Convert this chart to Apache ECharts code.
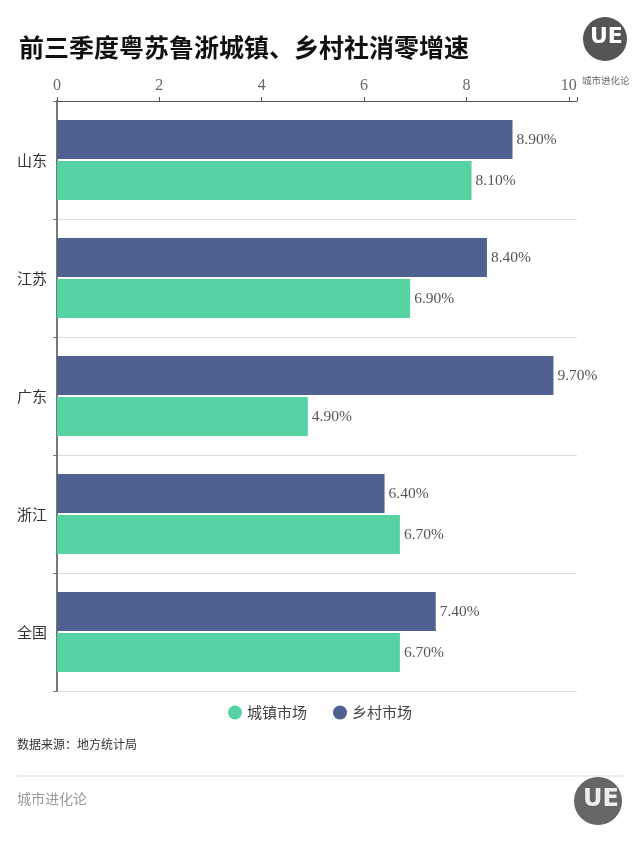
<!DOCTYPE html>
<html><head><meta charset="utf-8">
<script src="https://cdn.jsdelivr.net/npm/echarts@6/dist/echarts.min.js"></script>
<style>html,body{margin:0;padding:0;background:#fff}#c{width:640px;height:853px}</style>
</head><body><div id="c"></div>
<script>
const categories = ['全国', '浙江', '广东', '江苏', '山东'];
const urbanValues = [6.7, 6.7, 4.9, 6.9, 8.1];
const ruralValues = [7.4, 6.4, 9.7, 8.4, 8.9];
const seriesNames = ['城镇市场', '乡村市场'];
const titleText = '前三季度粤苏鲁浙城镇、乡村社消零增速';
const sourceText = '数据来源：地方统计局';
const brandText = '城市进化论';

const chart = echarts.init(document.getElementById('c'));
const serif = '"Liberation Serif","DejaVu Serif",serif';
const cjk = '"Noto Sans CJK SC","Noto Sans",sans-serif';
const labelCfg = {
  show: true, position: 'right', distance: 4,
  formatter: p => p.value.toFixed(2) + '%',
  fontFamily: serif, fontSize: 15.5, color: '#555'
};
chart.setOption({
  backgroundColor: '#fff',
  animation: false,
  title: {
    text: titleText, left: 14, top: 30,
    textStyle: { fontFamily: cjk, fontSize: 25, fontWeight: 'bold', color: '#111' }
  },
  grid: { left: 57, right: 63, top: 101, bottom: 162 },
  xAxis: {
    type: 'value', position: 'top', min: 0, max: 10.16, interval: 2,
    axisLine: { show: true, lineStyle: { color: '#555' } },
    axisTick: { show: true, length: 4, lineStyle: { color: '#555' } },
    axisLabel: {
      margin: 7, fontFamily: serif, fontSize: 16, color: '#666',
      formatter: v => (Math.abs(v - Math.round(v)) < 1e-6 && Math.round(v) % 2 === 0) ? String(Math.round(v)) : ''
    },
    splitLine: { show: false }
  },
  yAxis: {
    type: 'category', data: categories,
    axisLine: { show: true, lineStyle: { color: '#777', width: 2 } },
    axisTick: { show: true, length: 4, lineStyle: { color: '#777' } },
    axisLabel: { margin: 10, fontFamily: cjk, fontSize: 15, color: '#333' },
    splitLine: { show: true, lineStyle: { color: '#ddd' } }
  },
  legend: {
    bottom: 128, left: 'center', icon: 'circle', itemWidth: 14, itemHeight: 14, itemGap: 26,
    data: seriesNames,
    textStyle: { fontFamily: cjk, fontSize: 15, color: '#444' }
  },
  series: [
    { name: seriesNames[1], type: 'bar', data: ruralValues, itemStyle: { color: '#4f6190' },
      barCategoryGap: '32%', barGap: '5%', label: labelCfg },
    { name: seriesNames[0], type: 'bar', data: urbanValues, itemStyle: { color: '#56d3a3' },
      barCategoryGap: '32%', barGap: '5%', label: labelCfg }
  ],
  graphic: [
    { type: 'circle', shape: { cx: 605, cy: 39, r: 22 }, style: { fill: '#555' } },
    { type: 'text', left: 590, top: 26, style: { text: 'UE', fill: '#fff', font: 'bold 22px "DejaVu Sans"' } },
    { type: 'text', left: 582, top: 76, style: { text: brandText, fill: '#666', font: '9.5px "Noto Sans CJK SC"' } },
    { type: 'text', left: 17, top: 738, style: { text: sourceText, fill: '#333', font: '12px "Noto Sans CJK SC"' } },
    { type: 'line', shape: { x1: 17, y1: 776, x2: 623, y2: 776 }, style: { stroke: '#ddd', lineWidth: 1 } },
    { type: 'text', left: 17, top: 792, style: { text: brandText, fill: '#999', font: '14px "Noto Sans CJK SC"' } },
    { type: 'circle', shape: { cx: 598, cy: 801, r: 24 }, style: { fill: '#666' } },
    { type: 'text', left: 583, top: 788, style: { text: 'UE', fill: '#eee', font: 'bold 24px "DejaVu Sans"' } }
  ]
});
</script></body></html>
